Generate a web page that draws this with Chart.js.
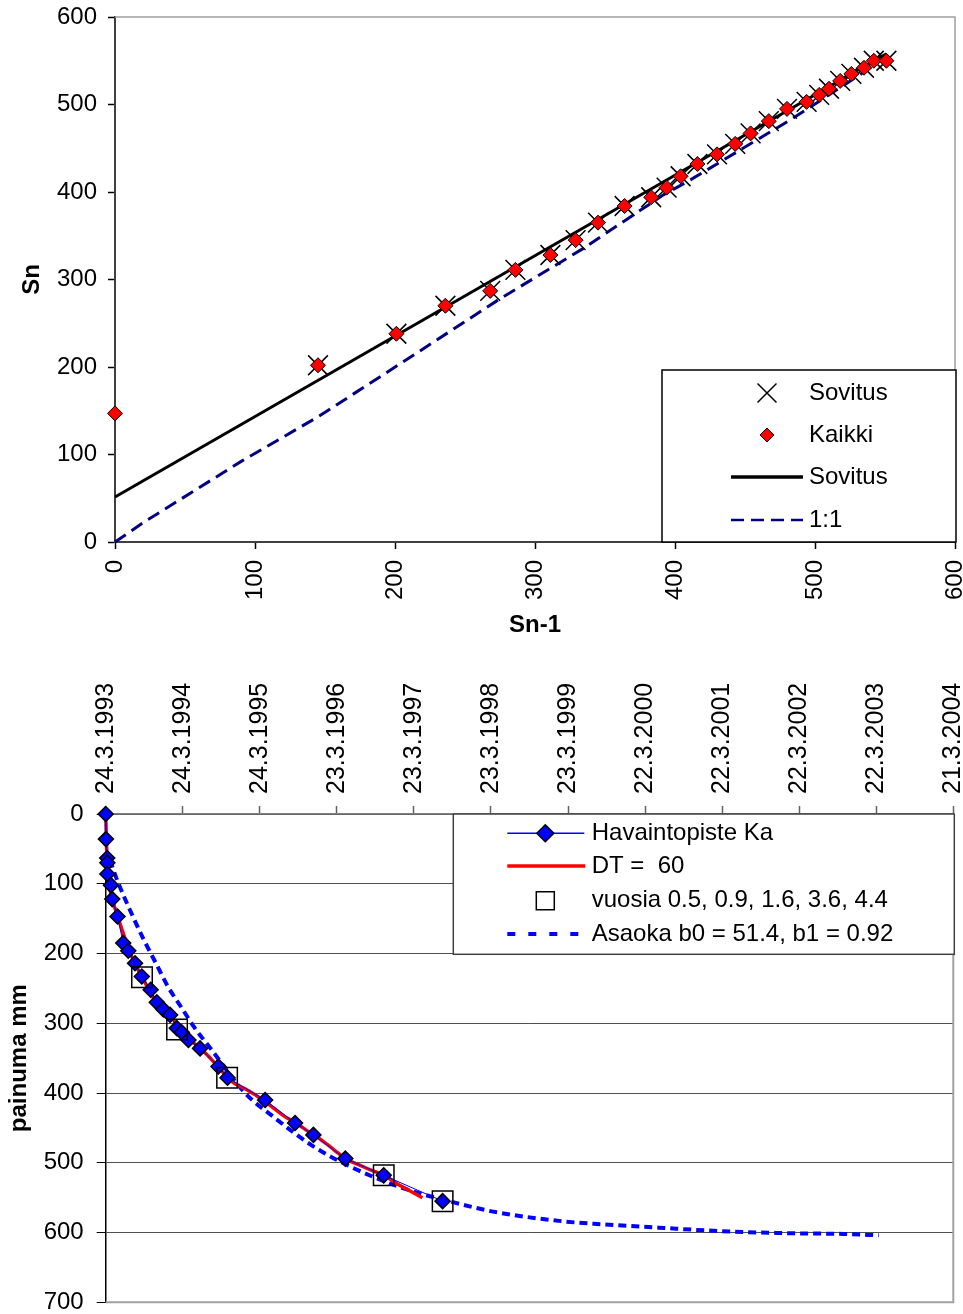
<!DOCTYPE html>
<html>
<head>
<meta charset="utf-8">
<script src="https://cdn.jsdelivr.net/npm/chart.js@4.4.0/dist/chart.umd.min.js"></script>
<style>
html,body{margin:0;padding:0;background:#fff;}
#wrap{position:relative;width:963px;height:1314px;overflow:hidden;}
#c1{position:absolute;left:0;top:0;}
#c2{position:absolute;left:0;top:650px;}
</style>
</head>
<body>
<div id="wrap">
<canvas id="c1" width="963" height="650"></canvas>
<canvas id="c2" width="963" height="664"></canvas>
</div>
<script>
// ===== Top chart data: Asaoka plot (Sn against Sn-1) =====
const snPrev = [0,145,201,236,268,286,311,329,345,364,383,394,404,416,430,443,454,467,480,494,503,510,518,526,535,542,551];
const sn     = [147,202,238,270,287,311,328,345,365,384,394,405,418,432,443,455,467,481,495,503,511,518,527,535,542,550,550];
const fitLineX = [0, 551];
const fitLineY = [51.4, 558];
const oneToOneX = [0,21,91,145,204,275,334,392,408,484,535,546];
const oneToOneY = [0,23,93,143,204,278,335,397,411,484,537,549];
const snTicks = [0,100,200,300,400,500,600];

// ===== Bottom chart data: settlement against time (days from 24.3.1993) =====
const obsDays = [0,1,7,8,8,25,31,56,83,107,139,171,213,242,273,305,337,360,392,447,534,577,755,897,984,1135,1317,1596];
const obsMm   = [0,36,63,70,86,102,122,147,185,196,214,233,252,270,280,288,307,313,324,336,362,378,410,443,460,494,518,555];
const dtDays = [0,4,12,30,60,120,180,240,300,360,420,480,540,600,660,720,780,840,900,960,1020,1080,1140,1200,1260,1320,1380,1440,1500];
const dtMm   = [0,45,90,120,150,202,238,270,287,311,329,345,365,384,394,405,418,432,443,455,467,481,495,503,511,518,530,540,550];
const yearMarkDays = [172,338,575,1317,1596];
const yearMarkMm   = [234,309,378,518,555];
const asaokaDays = [20,57,123,175,238,294,360,420,494,660,794,976,1142,1395,1678,1853,2170,2343,2619,2912,3244,3495,3662];
const asaokaMm   = [66,97,143,177,214,247,278,306,335,400,434,475,503,535,559,571,584,588,593,598,601,602,604];
const dateTickDays = [0,365,730,1095,1460,1825,2190,2555,2920,3285,3650,4015];
const dateTickLabels = ['24.3.1993','24.3.1994','24.3.1995','23.3.1996','23.3.1997','23.3.1998','23.3.1999','22.3.2000','22.3.2001','22.3.2002','22.3.2003','21.3.2004'];
const depthTicks = [0,100,200,300,400,500,600,700];

const FONT = "'Liberation Sans', Arial, sans-serif";
Chart.defaults.font.family = FONT;
Chart.defaults.font.size = 24;
Chart.defaults.color = '#000';

function pts(xs, ys){ return xs.map((x,i)=>({x:x, y:ys[i]})); }

function drawMarker(ctx, style, x, y, r, fill, stroke, lw){
  ctx.save();
  ctx.beginPath();
  if(style==='diamond'){
    ctx.moveTo(x-r,y); ctx.lineTo(x,y-r); ctx.lineTo(x+r,y); ctx.lineTo(x,y+r); ctx.closePath();
    ctx.fillStyle=fill; ctx.fill();
  } else if(style==='x'){
    ctx.moveTo(x-r,y-r); ctx.lineTo(x+r,y+r); ctx.moveTo(x+r,y-r); ctx.lineTo(x-r,y+r);
  } else if(style==='square'){
    ctx.rect(x-r,y-r,2*r,2*r);
  }
  ctx.strokeStyle=stroke; ctx.lineWidth=lw; ctx.stroke();
  ctx.restore();
}
function drawLegendLine(ctx, x1, x2, y, color, w, dash){
  ctx.save();
  ctx.beginPath(); ctx.setLineDash(dash||[]);
  ctx.moveTo(x1,y); ctx.lineTo(x2,y);
  ctx.strokeStyle=color; ctx.lineWidth=w; ctx.stroke();
  ctx.restore();
}

// ---------- Top chart ----------
const frameTop = {
  id:'frameTop',
  beforeDatasetsDraw(chart){
    const a=chart.chartArea, ctx=chart.ctx;
    ctx.save(); ctx.strokeStyle='#a0a0a0'; ctx.lineWidth=1.5;
    ctx.beginPath(); ctx.moveTo(a.left,a.top); ctx.lineTo(a.right,a.top); ctx.lineTo(a.right,a.bottom); ctx.stroke();
    ctx.restore();
  },
  afterDraw(chart){
    const a=chart.chartArea, ctx=chart.ctx;
    const L=a.right-293, T=370, W=294, H=172;
    ctx.save();
    ctx.fillStyle='#fff'; ctx.fillRect(L,T,W,H);
    ctx.strokeStyle='#000'; ctx.lineWidth=1.5; ctx.strokeRect(L,T,W,H);
    ctx.font='24px '+FONT; ctx.fillStyle='#000'; ctx.textBaseline='middle'; ctx.textAlign='left';
    const tx=L+147;
    drawMarker(ctx,'x',L+105,393,9.5,null,'#000',1.5);
    ctx.fillText('Sovitus',tx,393);
    drawMarker(ctx,'diamond',L+105,435,7,'#ff0000','#000',1);
    ctx.fillText('Kaikki',tx,435);
    drawLegendLine(ctx,L+69,L+141,477,'#000',3.5);
    ctx.fillText('Sovitus',tx,477);
    drawLegendLine(ctx,L+69,L+141,520,'#000080',2.5,[13,7]);
    ctx.fillText('1:1',tx,520);
    ctx.restore();
  }
};

new Chart(document.getElementById('c1'), {
  type:'scatter',
  data:{datasets:[
    {label:'Kaikki', data:pts(snPrev,sn), showLine:false, pointStyle:'rectRot', pointRadius:7.5,
     backgroundColor:'#ff0000', borderColor:'#000', borderWidth:1, order:0, clip:false},
    {label:'Sovitus', data:pts(snPrev.slice(1),sn.slice(1)), showLine:false, pointStyle:'crossRot', pointRadius:14,
     borderColor:'#000', backgroundColor:'#000', borderWidth:1.5, order:1, clip:false},
    {label:'Sovitus', data:pts(fitLineX,fitLineY), showLine:true, pointRadius:0, borderColor:'#000', borderWidth:3, order:2, clip:false},
    {label:'1:1', data:pts(oneToOneX,oneToOneY), showLine:true, pointRadius:0, borderColor:'#000080', borderWidth:3, borderDash:[13,7], order:3, clip:false}
  ]},
  options:{
    responsive:false, animation:false, devicePixelRatio:1, events:[],
    layout:{autoPadding:false, padding:{top:17,right:8,left:0,bottom:0}},
    plugins:{legend:{display:false}, tooltip:{enabled:false}},
    scales:{
      x:{type:'linear', min:0, max:600,
         afterBuildTicks(s){ s.ticks = snTicks.map(v=>({value:v})); },
         afterFit(s){ s.height=108; s.paddingLeft=0; s.paddingRight=0; },
         ticks:{minRotation:90, maxRotation:90, padding:11, font:{size:24}, color:'#000'},
         grid:{drawOnChartArea:false, drawTicks:true, tickLength:7, tickColor:'#000', tickWidth:1.5},
         border:{color:'#404040', width:2},
         title:{display:true, text:'Sn-1', font:{size:24, weight:'bold'}, padding:{top:0,bottom:10}, color:'#000'}},
      y:{type:'linear', min:0, max:600,
         afterBuildTicks(s){ s.ticks = snTicks.map(v=>({value:v})); },
         afterFit(s){ s.width=115; s.paddingTop=0; s.paddingBottom=0; },
         ticks:{padding:11, font:{size:24}, color:'#000'},
         grid:{drawOnChartArea:false, drawTicks:true, tickLength:7, tickColor:'#000', tickWidth:1.5},
         border:{color:'#404040', width:2},
         title:{display:true, text:'Sn', font:{size:24, weight:'bold'}, padding:{top:18,bottom:0}, color:'#000'}}
    }
  },
  plugins:[frameTop]
});

// ---------- Bottom chart ----------
const frameBottom = {
  id:'frameBottom',
  beforeDatasetsDraw(chart){
    const a=chart.chartArea, ctx=chart.ctx;
    ctx.save(); ctx.strokeStyle='#a0a0a0'; ctx.lineWidth=2;
    ctx.beginPath(); ctx.moveTo(a.right,a.top); ctx.lineTo(a.right,a.bottom); ctx.lineTo(a.left,a.bottom); ctx.stroke();
    ctx.restore();
  },
  afterDraw(chart){
    const a=chart.chartArea, ctx=chart.ctx;
    const L=453.3, T=a.top, W=a.right+1-453.3, H=140.3;
    ctx.save();
    ctx.fillStyle='#fff'; ctx.fillRect(L,T,W,H);
    ctx.strokeStyle='#404040'; ctx.lineWidth=1.5; ctx.strokeRect(L,T,W,H);
    ctx.font='24px '+FONT; ctx.fillStyle='#000'; ctx.textBaseline='middle'; ctx.textAlign='left';
    const tx=L+138.4, mx=L+92;
    const r1=T+19.3, r2=T+52, r3=T+86.7, r4=T+120;
    drawLegendLine(ctx,L+54,L+131,r1,'#0000ff',1.5);
    drawMarker(ctx,'diamond',mx,r1,8.5,'#0000ff','#000',1.5);
    ctx.fillText('Havaintopiste Ka',tx,r1);
    drawLegendLine(ctx,L+54,L+132,r2,'#ff0000',3.5);
    ctx.fillText('DT =  60',tx,r2);
    drawMarker(ctx,'square',mx,r3,9,null,'#000',1.5);
    ctx.fillText('vuosia 0.5, 0.9, 1.6, 3.6, 4.4',tx,r3);
    drawLegendLine(ctx,L+54,L+125,r4,'#0000ff',4,[8,13]);
    ctx.fillText('Asaoka b0 = 51.4, b1 = 0.92',tx,r4);
    ctx.restore();
  }
};

new Chart(document.getElementById('c2'), {
  type:'scatter',
  data:{datasets:[
    {label:'vuosia 0.5, 0.9, 1.6, 3.6, 4.4', data:pts(yearMarkDays,yearMarkMm), showLine:false, pointStyle:'rect', pointRadius:14.5,
     backgroundColor:'rgba(0,0,0,0)', borderColor:'#000', borderWidth:1.5, order:0, clip:false},
    {label:'Havaintopiste Ka', data:pts(obsDays,obsMm), showLine:true, borderColor:'#0000ff', borderWidth:1,
     pointStyle:'rectRot', pointRadius:7.5, pointBackgroundColor:'#0000ff', pointBorderColor:'#000', pointBorderWidth:1.5,
     order:1, clip:false},
    {label:'DT =  60', data:pts(dtDays,dtMm), showLine:true, pointRadius:0, borderColor:'#ff0000', borderWidth:3.5,
     cubicInterpolationMode:'monotone', order:2, clip:false},
    {label:'Asaoka b0 = 51.4, b1 = 0.92', data:pts(asaokaDays,asaokaMm), showLine:true, pointRadius:0, borderColor:'#0000ff',
     borderWidth:4, borderDash:[8,5], cubicInterpolationMode:'monotone', order:3, clip:false}
  ]},
  options:{
    responsive:false, animation:false, devicePixelRatio:1, events:[],
    layout:{autoPadding:false, padding:{top:0,right:9.7,left:0,bottom:11.7}},
    plugins:{legend:{display:false}, tooltip:{enabled:false}},
    scales:{
      x:{type:'linear', position:'top', min:0, max:4015,
         afterBuildTicks(s){ s.ticks = dateTickDays.map(v=>({value:v})); },
         afterFit(s){ s.height=164; s.paddingLeft=0; s.paddingRight=0; },
         ticks:{minRotation:90, maxRotation:90, padding:12, labelOffset:30, font:{size:25}, color:'#000',
                callback(v){ const i=dateTickDays.indexOf(v); return i>=0?dateTickLabels[i]:''; }},
         grid:{drawOnChartArea:false, drawTicks:true, tickLength:8, tickColor:'#606060', tickWidth:1.5},
         border:{color:'#808080', width:1.5}},
      y:{type:'linear', reverse:true, min:0, max:700,
         afterBuildTicks(s){ s.ticks = depthTicks.map(v=>({value:v})); },
         afterFit(s){ s.width=105.7; s.paddingTop=0; s.paddingBottom=0; },
         ticks:{padding:13, font:{size:24}, color:'#000'},
         grid:{drawOnChartArea:true, drawTicks:true, tickLength:9, color:'#505050', lineWidth:1, tickColor:'#000'},
         border:{color:'#000', width:1.5},
         title:{display:true, text:'painuma mm', font:{size:24, weight:'bold'}, padding:{top:5,bottom:0}, color:'#000'}}
    }
  },
  plugins:[frameBottom]
});
</script>
</body>
</html>
